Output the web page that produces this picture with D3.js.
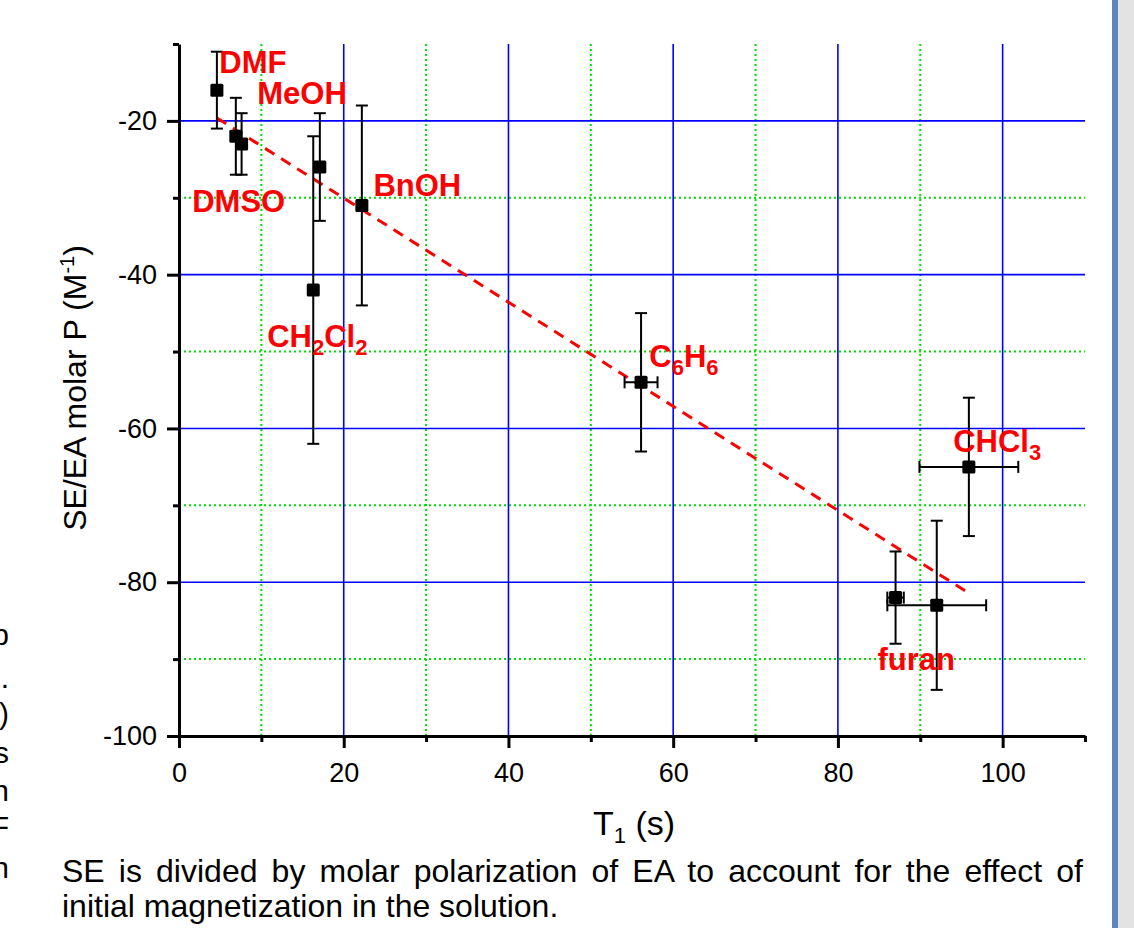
<!DOCTYPE html>
<html lang="en">
<head>
<meta charset="utf-8">
<title>SE/EA molar P vs T1</title>
<style>
  body { margin: 0; background: #fff; }
  svg { display: block; font-family: "Liberation Sans", Arial, sans-serif; }
  .axis text { font-size: 27px; fill: #000; }
  .axis path, .axis line { stroke: #000; stroke-width: 3; }
  .axis-title { font-size: 32px; fill: #000; }
  .solvent { font-size: 31px; font-weight: bold; fill: #ff0000; }
  .caption { font-size: 32px; fill: #000; }
  .side { font-size: 30px; fill: #000; }
  .grid-major { stroke: #0000ff; stroke-width: 1.6; }
  .grid-minor { stroke: #00dd00; stroke-width: 2; stroke-dasharray: 2, 3; }
  .errbar { stroke: #000; stroke-width: 2; }
  .fit { stroke: #ff0000; stroke-width: 3; stroke-dasharray: 11, 8; fill: none; }
</style>
</head>
<body>
<div id="chart"></div>
<script src="https://cdn.jsdelivr.net/npm/d3@7"></script>
<script>

// measured points
var t1        = [4.6, 6.9, 7.6, 16.3, 17.1, 22.2, 56.1, 87.0, 92.0, 95.9];
var t1Err     = [0, 0, 0, 0, 0, 0, 2, 1, 6, 6];
var molarP    = [-16, -22, -23, -42, -26, -31, -54, -82, -83, -65];
var molarPErr = [5, 5, 4, 20, 7, 13, 9, 6, 11, 9];

// linear fit
var fitSlope = -0.677,
    fitIntercept = -16.5,
    fitFrom = 4.6,
    fitTo = 95.9;

// solvent labels: parts are [text, subscript?], anchored in data units
var labelParts = [
  [["DMF", 0]],
  [["MeOH", 0]],
  [["DMSO", 0]],
  [["BnOH", 0]],
  [["CH", 0], ["2", 1], ["Cl", 0], ["2", 1]],
  [["C", 0], ["6", 1], ["H", 0], ["6", 1]],
  [["CHCl", 0], ["3", 1]],
  [["furan", 0]]
];
var labelT1 = [4.9, 9.5, 1.6, 23.6, 10.7, 57.1, 94.0, 84.8];
var labelP  = [-13.8, -17.8, -31.9, -29.8, -49.4, -52.0, -63.1, -91.4];

// ticks and grid
var xTicks = [0, 10, 20, 30, 40, 50, 60, 70, 80, 90, 100, 110];
var yTicks = [-100, -90, -80, -70, -60, -50, -40, -30, -20, -10];
var xGridMajor = [20, 40, 60, 80, 100];
var xGridMinor = [10, 30, 50, 70, 90];
var yGridMajor = [-80, -60, -40, -20];
var yGridMinor = [-90, -70, -50, -30];

var captionLines = [
  "SE is divided by molar polarization of EA to account for the effect of",
  "initial magnetization in the solution."
];
// clipped ends of the neighbouring text column
var sideText = ["p", ".", ")", "s", "n", "F", "n"];
var sideBase = [645, 688, 724, 763, 801, 837, 878];

var W = 1134, H = 928;
var plot = {left: 179, right: 1085, top: 44, bottom: 736};

var svg = d3.select("#chart").append("svg")
            .attr("width", W)
            .attr("height", H);

svg.append("rect").attr("width", W).attr("height", H).attr("fill", "#fff");

var x = d3.scaleLinear().domain([0, 110]).range([plot.left, plot.right]);
var y = d3.scaleLinear().domain([-100, -10]).range([plot.bottom, plot.top]);

// grid
svg.selectAll("line.gxmin").data(xGridMinor).enter().append("line")
   .attr("class", "grid-minor")
   .attr("x1", function(d){ return x(d); }).attr("x2", function(d){ return x(d); })
   .attr("y1", plot.top).attr("y2", plot.bottom);
svg.selectAll("line.gymin").data(yGridMinor).enter().append("line")
   .attr("class", "grid-minor")
   .attr("x1", plot.left).attr("x2", plot.right)
   .attr("y1", function(d){ return y(d); }).attr("y2", function(d){ return y(d); });
svg.selectAll("line.gxmaj").data(xGridMajor).enter().append("line")
   .attr("class", "grid-major")
   .attr("x1", function(d){ return x(d); }).attr("x2", function(d){ return x(d); })
   .attr("y1", plot.top).attr("y2", plot.bottom);
svg.selectAll("line.gymaj").data(yGridMajor).enter().append("line")
   .attr("class", "grid-major")
   .attr("x1", plot.left).attr("x2", plot.right)
   .attr("y1", function(d){ return y(d); }).attr("y2", function(d){ return y(d); });

// axes
var xAxis = d3.axisBottom(x).tickValues(xTicks).tickSize(12).tickSizeOuter(0).tickPadding(15)
              .tickFormat(function(d){ return (d % 20 === 0 && d <= 100) ? d : ""; });
var yAxis = d3.axisLeft(y).tickValues(yTicks).tickSize(12).tickSizeOuter(0).tickPadding(10)
              .tickFormat(function(d){ return d % 20 === 0 ? d : ""; });

var gx = svg.append("g").attr("class", "axis")
            .attr("transform", "translate(0," + plot.bottom + ")")
            .call(xAxis);
gx.selectAll(".tick line").attr("y2", function(d){ return (d % 20 === 0 && d <= 100) ? 12 : 6; });

var gy = svg.append("g").attr("class", "axis")
            .attr("transform", "translate(" + plot.left + ",0)")
            .call(yAxis);
gy.selectAll(".tick line").attr("x2", function(d){ return d % 20 === 0 ? -12 : -6; });
svg.selectAll(".axis").attr("font-family", null).attr("font-size", null);

// axis titles
var yt = svg.append("text").attr("class", "axis-title")
            .attr("text-anchor", "middle")
            .attr("transform", "translate(86," + ((plot.top + plot.bottom) / 2 - 2) + ") rotate(-90)");
yt.append("tspan").text("SE/EA molar P (M");
yt.append("tspan").attr("dy", -12).attr("font-size", 20).text("-1");
yt.append("tspan").attr("dy", 12).text(")");

var xt = svg.append("text").attr("class", "axis-title")
            .attr("text-anchor", "middle")
            .attr("x", (plot.left + plot.right) / 2 + 2)
            .attr("y", 835)
            .style("font-size", "34px");
xt.append("tspan").text("T");
xt.append("tspan").attr("dy", 8).attr("font-size", 22).text("1");
xt.append("tspan").attr("dy", -8).text(" (s)");

// fit line
svg.append("line").attr("class", "fit")
   .attr("x1", x(fitFrom)).attr("y1", y(fitIntercept + fitSlope * fitFrom))
   .attr("x2", x(fitTo)).attr("y2", y(fitIntercept + fitSlope * fitTo));

// error bars and markers
var pts = d3.range(t1.length);
var cap = 6;
var eb = svg.selectAll("g.pt").data(pts).enter().append("g").attr("class", "pt");

eb.append("line").attr("class", "errbar")
  .attr("x1", function(i){ return x(t1[i]); }).attr("x2", function(i){ return x(t1[i]); })
  .attr("y1", function(i){ return y(molarP[i] + molarPErr[i]); })
  .attr("y2", function(i){ return y(molarP[i] - molarPErr[i]); });
eb.append("line").attr("class", "errbar")
  .attr("x1", function(i){ return x(t1[i]) - cap; }).attr("x2", function(i){ return x(t1[i]) + cap; })
  .attr("y1", function(i){ return y(molarP[i] + molarPErr[i]); })
  .attr("y2", function(i){ return y(molarP[i] + molarPErr[i]); });
eb.append("line").attr("class", "errbar")
  .attr("x1", function(i){ return x(t1[i]) - cap; }).attr("x2", function(i){ return x(t1[i]) + cap; })
  .attr("y1", function(i){ return y(molarP[i] - molarPErr[i]); })
  .attr("y2", function(i){ return y(molarP[i] - molarPErr[i]); });

var xe = eb.filter(function(i){ return t1Err[i] > 0; });
xe.append("line").attr("class", "errbar")
  .attr("x1", function(i){ return x(t1[i] - t1Err[i]); })
  .attr("x2", function(i){ return x(t1[i] + t1Err[i]); })
  .attr("y1", function(i){ return y(molarP[i]); }).attr("y2", function(i){ return y(molarP[i]); });
xe.append("line").attr("class", "errbar")
  .attr("x1", function(i){ return x(t1[i] - t1Err[i]); })
  .attr("x2", function(i){ return x(t1[i] - t1Err[i]); })
  .attr("y1", function(i){ return y(molarP[i]) - cap; }).attr("y2", function(i){ return y(molarP[i]) + cap; });
xe.append("line").attr("class", "errbar")
  .attr("x1", function(i){ return x(t1[i] + t1Err[i]); })
  .attr("x2", function(i){ return x(t1[i] + t1Err[i]); })
  .attr("y1", function(i){ return y(molarP[i]) - cap; }).attr("y2", function(i){ return y(molarP[i]) + cap; });

eb.append("rect")
  .attr("x", function(i){ return x(t1[i]) - 6.5; })
  .attr("y", function(i){ return y(molarP[i]) - 6.5; })
  .attr("width", 13).attr("height", 13)
  .attr("rx", 1.5)
  .attr("fill", "#000");

// solvent labels
labelParts.forEach(function(parts, i){
  var t = svg.append("text").attr("class", "solvent")
             .attr("x", x(labelT1[i])).attr("y", y(labelP[i]));
  var shift = 0;
  parts.forEach(function(p){
    var want = p[1] ? 8 : 0;
    t.append("tspan")
     .attr("dy", want - shift)
     .attr("font-size", p[1] ? 22 : null)
     .text(p[0]);
    shift = want;
  });
});

// caption, first line justified to the plot width
var capLeft = 62, capRight = 1083;
captionLines.forEach(function(line, i){
  var c = svg.append("text").attr("class", "caption")
             .attr("x", capLeft).attr("y", 882 + i * 35)
             .text(line);
  if (i === 0) {
    var gaps = line.split(" ").length - 1;
    var extra = (capRight - capLeft - c.node().getComputedTextLength()) / gaps;
    c.attr("word-spacing", extra);
  }
});

// clipped text at the left edge
svg.selectAll("text.side").data(sideText).enter().append("text")
   .attr("class", "side")
   .attr("text-anchor", "end")
   .attr("x", 9)
   .attr("y", function(d, i){ return sideBase[i]; })
   .text(function(d){ return d; });

// slide frame on the right
svg.append("rect").attr("x", 1118).attr("y", 0).attr("width", 16).attr("height", H).attr("fill", "#e3e3e3");
svg.append("rect").attr("x", 1112).attr("y", 0).attr("width", 6).attr("height", H).attr("fill", "#5b86c0");

</script>
</body>
</html>
